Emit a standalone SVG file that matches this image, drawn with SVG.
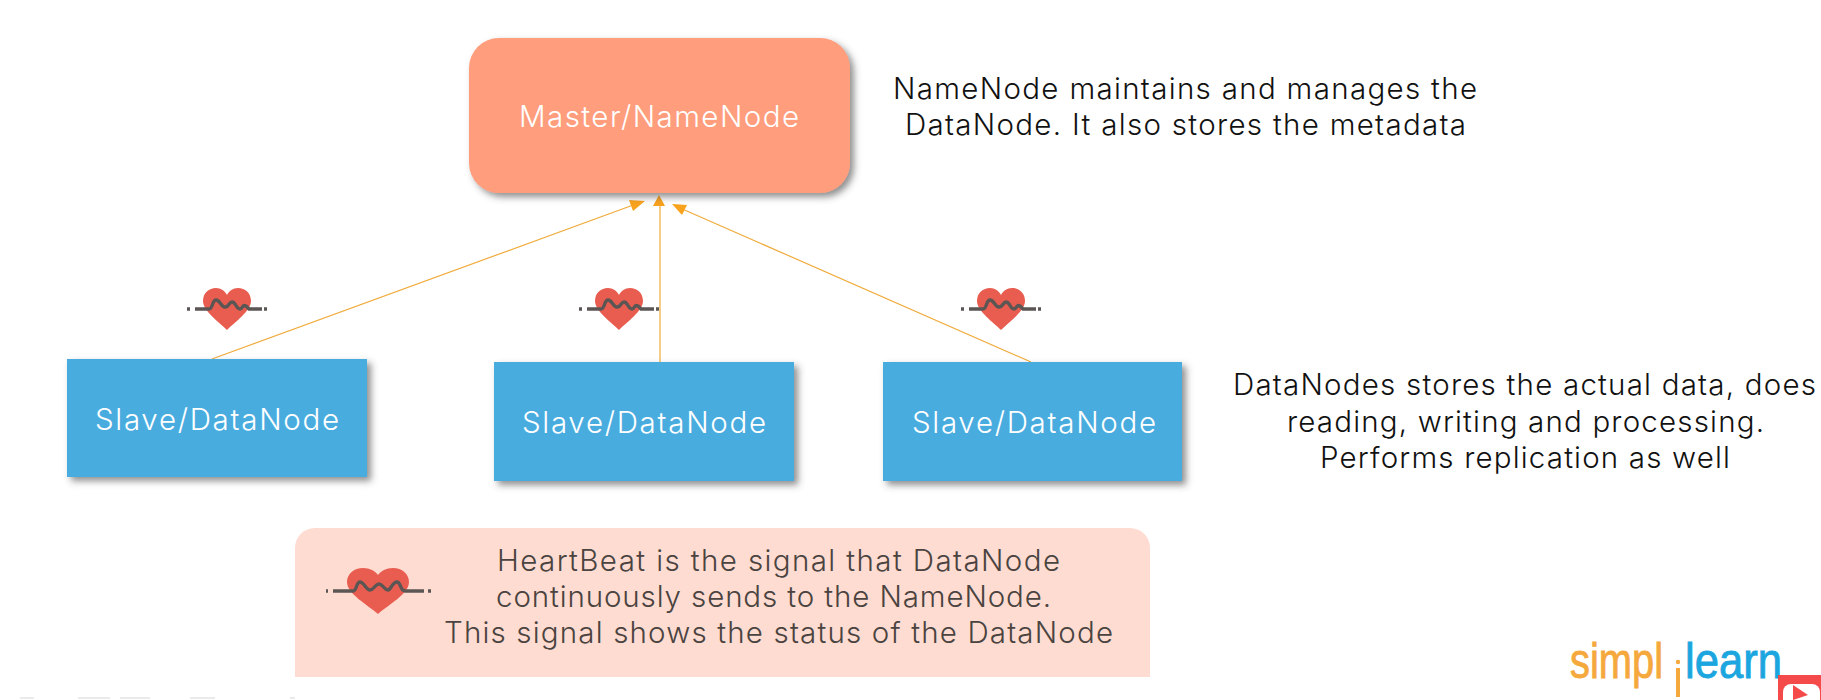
<svg xmlns="http://www.w3.org/2000/svg" xmlns:xlink="http://www.w3.org/1999/xlink" width="1821" height="700" viewBox="0 0 1821 700">
<style>
text{font-family:Inter,"Noto Sans","Liberation Sans",sans-serif;font-weight:300;font-size:29.5px;text-anchor:start}
.w{fill:#fff}
.k{fill:#111}
.d{fill:#4a4340}
.conn{stroke:#f0ab3c;stroke-width:1.2;fill:none}
.head{fill:#f9a21e}
.slave{fill:#48acdf;filter:url(#sh)}
.hb{fill:#e95d50}
.wave{fill:none;stroke:#5b5654;stroke-width:3.4;stroke-linecap:butt}
.logo{font-size:50px;font-weight:400;font-family:"Liberation Sans",sans-serif;stroke-width:.9}
</style>
<defs>
<filter id="sh" x="-10%" y="-10%" width="125%" height="130%"><feDropShadow dx="4" dy="4" stdDeviation="3.5" flood-color="#444" flood-opacity=".6"/></filter>
<g id="beat">
<path class="hb" d="M0 21C-8 13-24 2-24-8C-24-16-18-21-11-21C-6-21-2-18 0-14C2-18 6-21 11-21C18-21 24-16 24-8C24 2 8 13 0 21Z"/>
<path class="wave" d="M-32 0H-18C-14 0-15-9-11-9C-7-9-6-2-2-2C2-2 2-7 5-7C9-7 9 0 13 0C16 0 15-5 19-3L22 0H35M-40 0H-37M37 0H40"/>
</g>
<g id="beatL">
<path class="hb" d="M0 23C-10 14-31 3-31-9C-31-17-24-23-15-23C-8-23-3-20 0-16C3-20 8-23 15-23C24-23 31-17 31-9C31 3 10 14 0 23Z"/>
<path class="wave" d="M-45 0H-25C-21 0-22-9-18-9C-14-9-12-1-8-1C-4-1-3-7 1-7C5-7 6-1 10-1C13-1 14-9 19-9C23-9 22 0 27 0H46M-52 0H-50M50 0H53"/>
</g>
</defs>
<rect width="1821" height="700" fill="#fff"/>
<g id="connectors">
<path class="conn" d="M212 359L636 204M660 362V205M1031 362L680 208"/>
<path class="head" d="M645 201L633 211L629 200Z"/>
<path class="head" d="M659 195L665 206H653Z"/>
<path class="head" d="M672 204L687 205L682 215Z"/>
</g>
<g id="master"><rect x="469" y="38" width="381" height="155" rx="30" fill="#ff9d7c" filter="url(#sh)"/><text class="w" x="519" y="127" textLength="280">Master/NameNode</text></g>
<g id="slave1"><rect class="slave" x="67" y="359" width="300" height="118"/><text class="w" x="95" y="430" textLength="244">Slave/DataNode</text></g>
<g id="slave2"><rect class="slave" x="494" y="362" width="300" height="119"/><text class="w" x="522" y="433" textLength="244">Slave/DataNode</text></g>
<g id="slave3"><rect class="slave" x="883" y="362" width="299" height="119"/><text class="w" x="912" y="433" textLength="244">Slave/DataNode</text></g>
<g id="heart1"><use xlink:href="#beat" href="#beat" x="227" y="309"/></g>
<g id="heart2"><use xlink:href="#beat" href="#beat" x="619" y="309"/></g>
<g id="heart3"><use xlink:href="#beat" href="#beat" x="1001" y="309"/></g>
<g id="note-namenode">
<text class="k" x="893" y="99" textLength="584">NameNode maintains and manages the</text>
<text class="k" x="905" y="135" textLength="561">DataNode. It also stores the metadata</text>
</g>
<g id="note-datanode">
<text class="k" x="1233" y="395" textLength="583">DataNodes stores the actual data, does</text>
<text class="k" x="1287" y="432" textLength="477">reading, writing and processing.</text>
<text class="k" x="1320" y="468" textLength="410">Performs replication as well</text>
</g>
<g id="legend">
<path d="M295 677V548A20 20 0 0 1 315 528H1130A20 20 0 0 1 1150 548V677Z" fill="#fedcd2"/>
<use xlink:href="#beatL" href="#beatL" x="378" y="591"/>
<text class="d" x="497" y="571" textLength="563">HeartBeat is the signal that DataNode</text>
<text class="d" x="496" y="607" textLength="555">continuously sends to the NameNode.</text>
<text class="d" x="444" y="643" textLength="669">This signal shows the status of the DataNode</text>
</g>
<g id="logo">
<text class="logo" x="1570" y="678" textLength="93" lengthAdjust="spacingAndGlyphs" style="fill:#f5a93c;stroke:#f5a93c">simpl</text>
<path d="M1678 668V697" stroke="#f5a93c" stroke-width="4"/><circle cx="1678" cy="662" r="2.2" fill="#f5a93c"/>
<text class="logo" x="1685" y="678" textLength="97" lengthAdjust="spacingAndGlyphs" style="fill:#1ca6df;stroke:#1ca6df">learn</text>
<rect x="1778" y="675" width="43" height="25" fill="#f44a4a"/>
<path d="M1791 684H1812A8 8 0 0 1 1820 692V700H1783V692A8 8 0 0 1 1791 684Z" fill="#fff"/>
<path d="M1793 685L1808 695L1793 700Z" fill="#f44a4a"/>
</g>
<g id="edge" stroke="#ddd" stroke-width="2" opacity=".6"><path d="M20 698H34M78 698H110M120 698H150M190 698H215M290 698H295"/></g>
</svg>
